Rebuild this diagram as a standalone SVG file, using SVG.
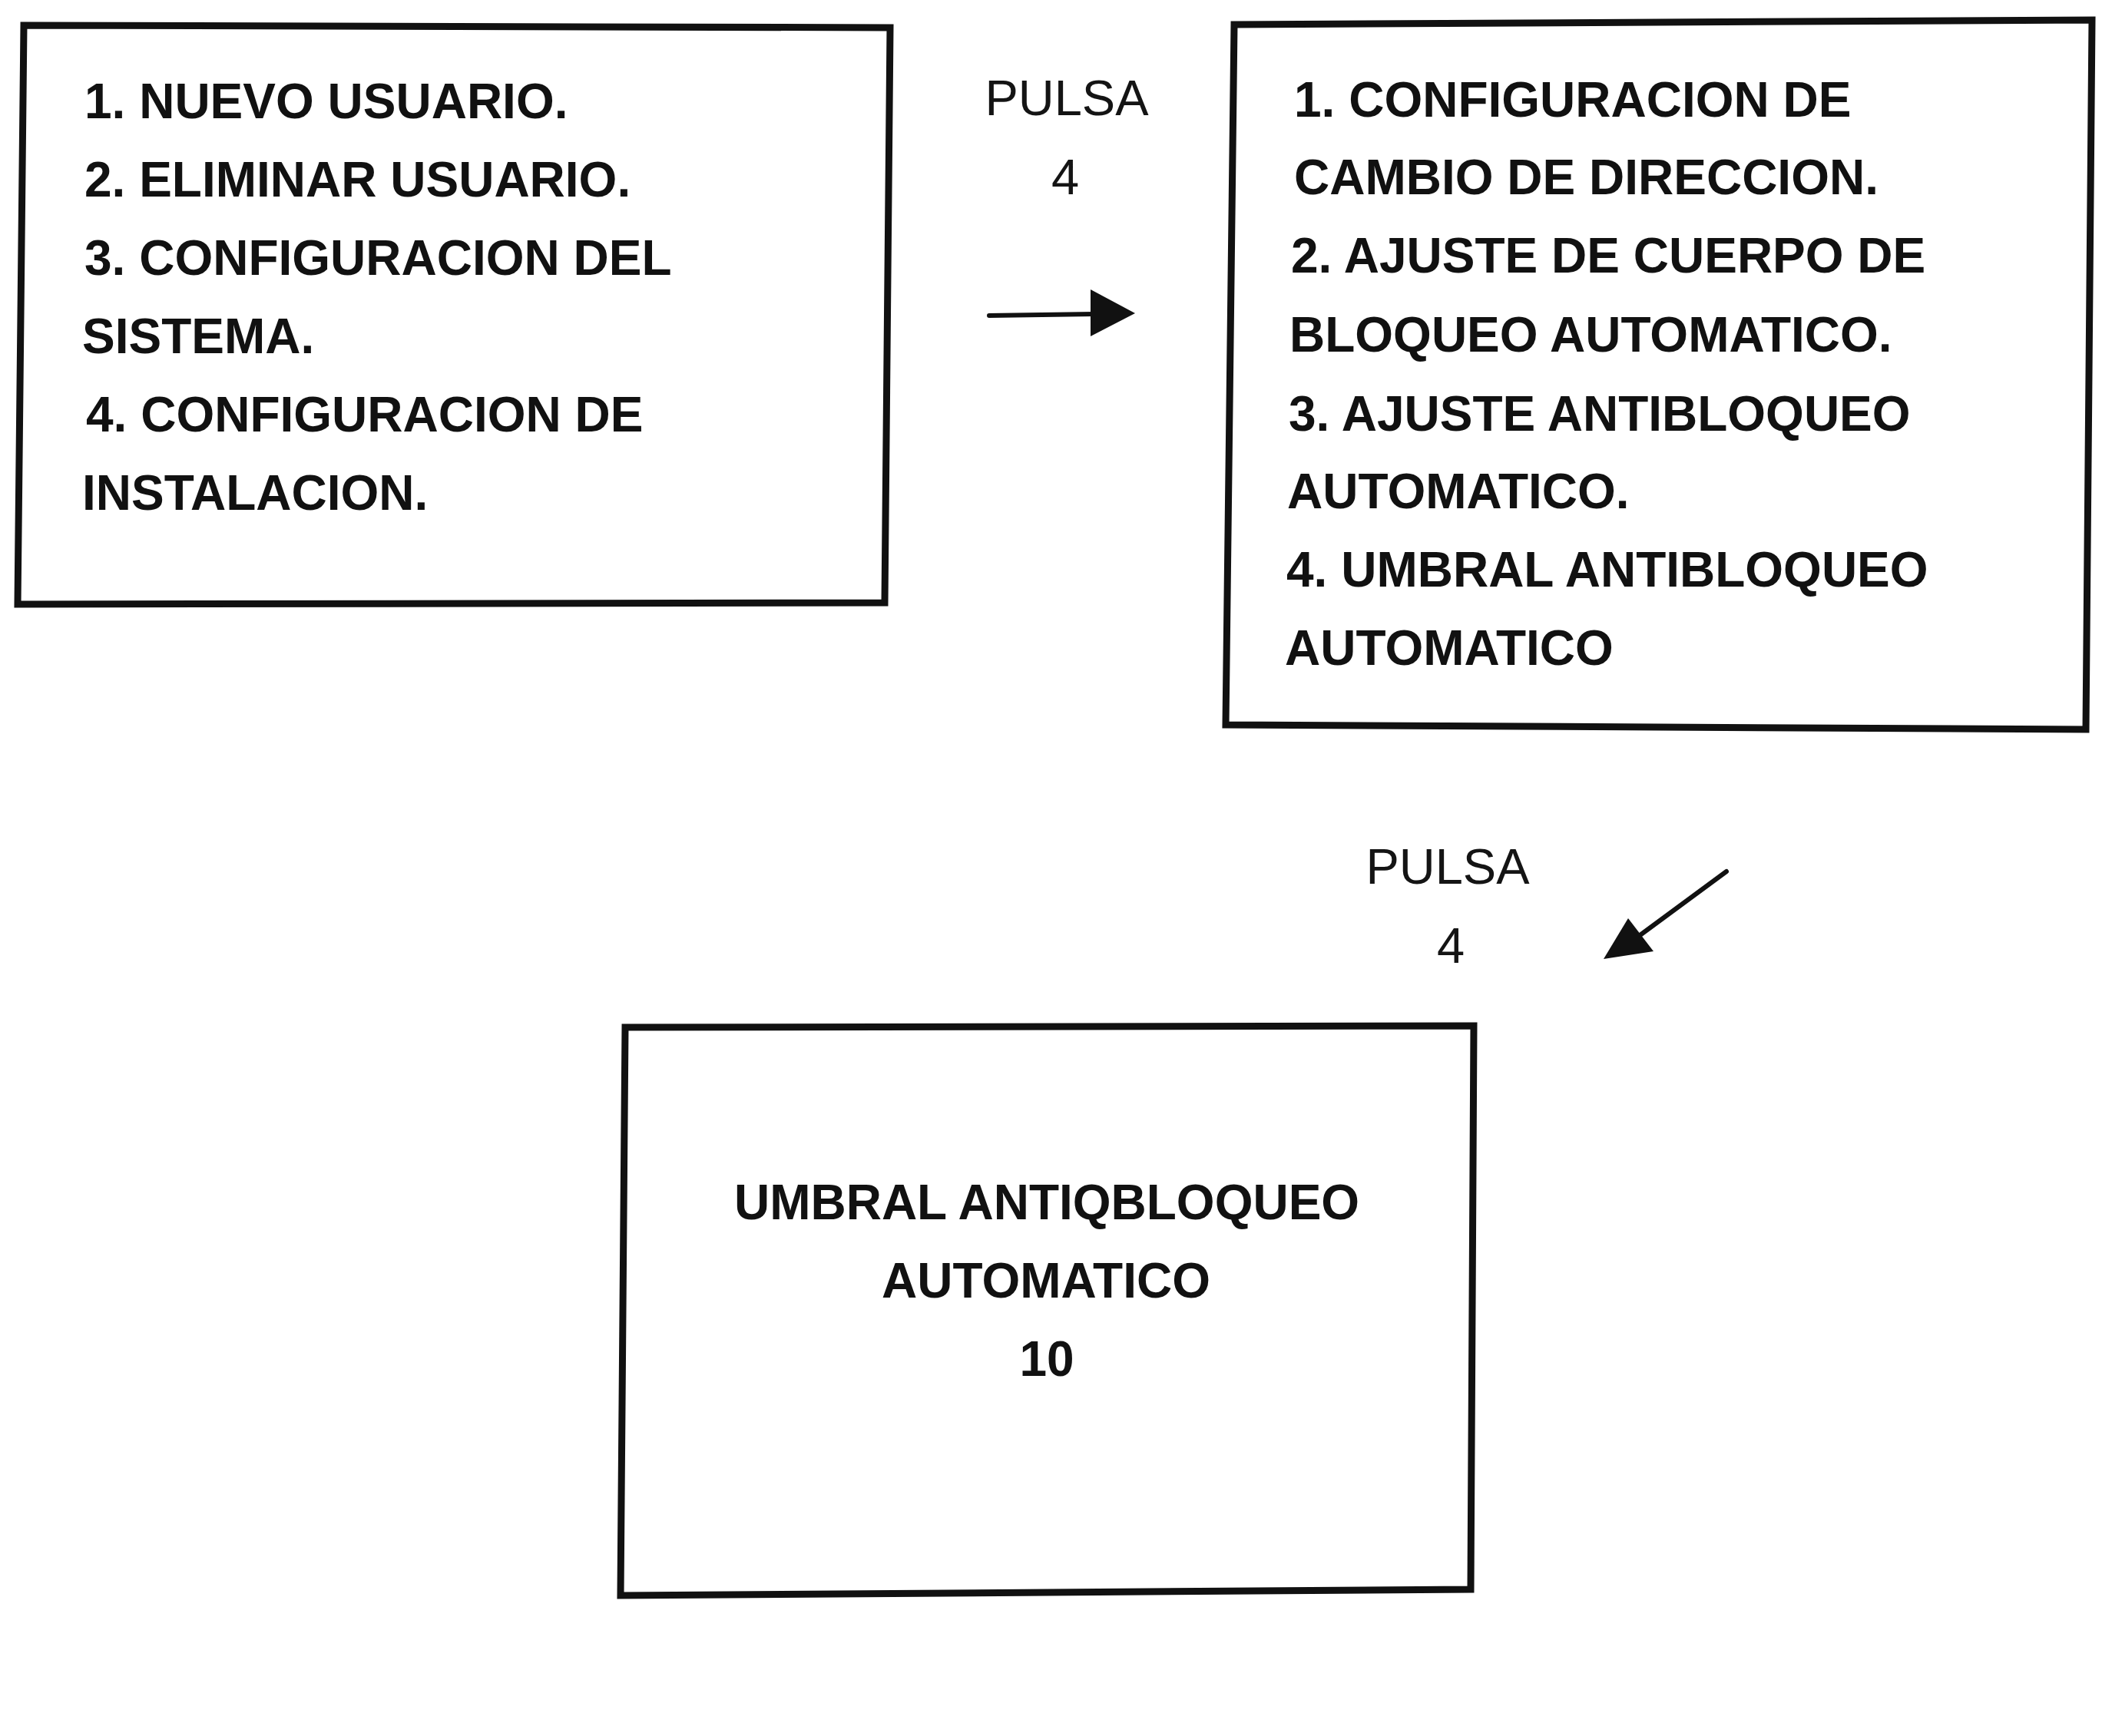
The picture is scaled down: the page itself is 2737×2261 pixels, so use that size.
<svg xmlns="http://www.w3.org/2000/svg" width="2737" height="2261" viewBox="0 0 2737 2261">
<style>
.box{fill:none;stroke:#111;stroke-width:9;stroke-linejoin:miter}
.t{font-family:"Liberation Sans",Arial,sans-serif;font-weight:bold;font-size:64px;fill:#111}
.c{text-anchor:middle}
.p{font-family:"Liberation Sans",Arial,sans-serif;font-size:65px;fill:#141414;text-anchor:middle}
.ln{stroke:#111;stroke-width:6;stroke-linecap:round;fill:none}
.hd{fill:#111}
</style>
<rect width="2737" height="2261" fill="#ffffff"/>
<g id="node-menu-principal">
<polygon class="box" points="31,33 1159,36 1152,785 23,787"/>
<text class="t" x="110" y="154">1. NUEVO USUARIO.</text>
<text class="t" x="110" y="256">2. ELIMINAR USUARIO.</text>
<text class="t" x="110" y="358">3. CONFIGURACION DEL</text>
<text class="t" x="107" y="460">SISTEMA.</text>
<text class="t" x="112" y="562">4. CONFIGURACION DE</text>
<text class="t" x="107" y="664">INSTALACION.</text>
</g>
<g id="node-configuracion-instalacion">
<polygon class="box" points="1607,32 2724,26 2716,950 1596,944"/>
<text class="t" x="1685" y="152">1. CONFIGURACION DE</text>
<text class="t" x="1685" y="253">CAMBIO DE DIRECCION.</text>
<text class="t" x="1681" y="355">2. AJUSTE DE CUERPO DE</text>
<text class="t" x="1679" y="458">BLOQUEO AUTOMATICO.</text>
<text class="t" x="1678" y="561">3. AJUSTE ANTIBLOQUEO</text>
<text class="t" x="1676" y="662">AUTOMATICO.</text>
<text class="t" x="1675" y="764">4. UMBRAL ANTIBLOQUEO</text>
<text class="t" x="1673" y="866">AUTOMATICO</text>
</g>
<g id="node-umbral">
<polygon class="box" points="814,1338 1919,1336 1915,2070 808,2078"/>
<text class="t c" x="1363" y="1588">UMBRAL ANTIQBLOQUEO</text>
<text class="t c" x="1362" y="1690">AUTOMATICO</text>
<text class="t c" x="1363" y="1792">10</text>
</g>
<g id="connectors">
<text class="p" x="1389" y="150">PULSA</text>
<text class="p" x="1387" y="253">4</text>
<line class="ln" x1="1288" y1="411" x2="1425" y2="409"/>
<polygon class="hd" points="1420,377 1478,408 1420,438"/>
<text class="p" x="1885" y="1151">PULSA</text>
<text class="p" x="1889" y="1254">4</text>
<line class="ln" x1="2248" y1="1135" x2="2130" y2="1222"/>
<polygon class="hd" points="2120,1196 2153,1239 2088,1249"/>
</g>
</svg>
